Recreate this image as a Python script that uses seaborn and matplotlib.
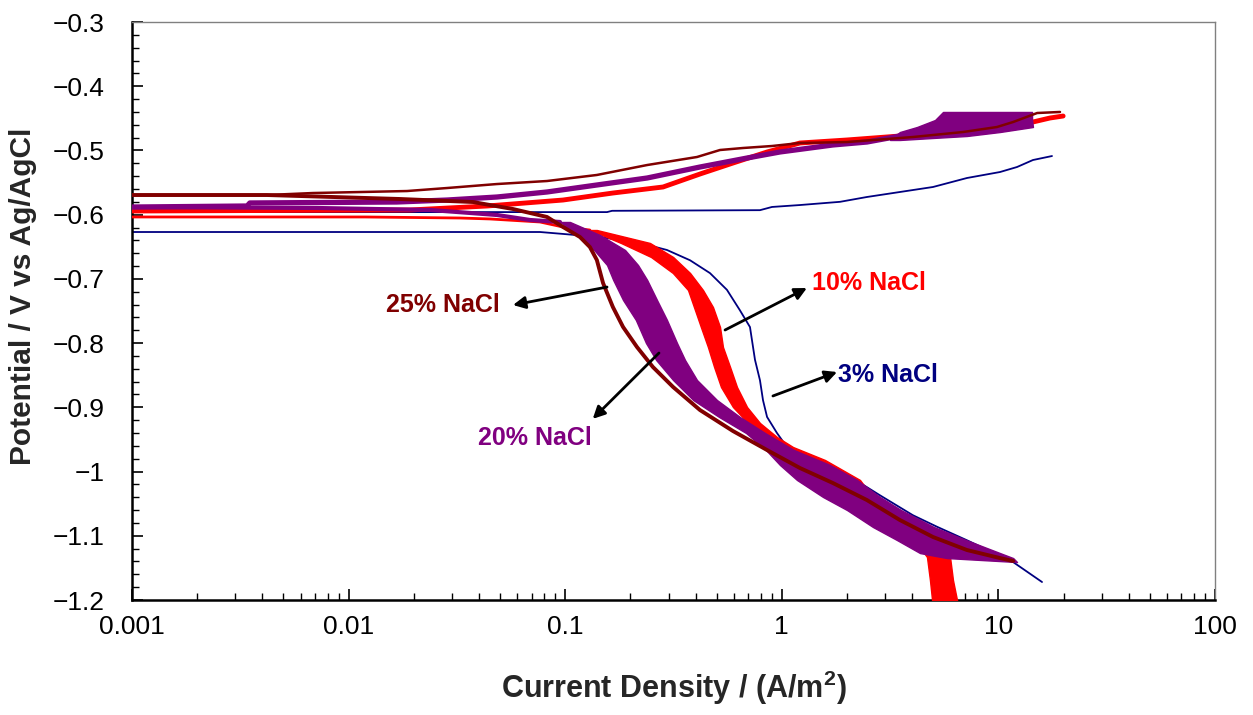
import numpy as np
import pandas as pd
import matplotlib
matplotlib.use("Agg")
import matplotlib.pyplot as plt
import seaborn as sns
from matplotlib.ticker import FixedLocator, LogLocator, MultipleLocator, FuncFormatter, NullFormatter

# ---------------- data (current density A/m^2, potential V vs Ag/AgCl) ----------------
# 3% NaCl
blue_cath_i = [0.001, 0.0765, 0.0977, 0.145, 0.185, 0.221, 0.295, 0.377, 0.466, 0.558, 0.641, 0.713, 0.728,
               0.752, 0.793, 0.819, 0.855, 0.95, 1.057, 1.39, 2.0, 2.84, 4.03, 5.21, 7.16, 11.7, 15.9]
blue_cath_e = [-0.627, -0.627, -0.630, -0.635, -0.640, -0.644, -0.655, -0.671, -0.691, -0.717, -0.749, -0.775,
               -0.795, -0.826, -0.858, -0.889, -0.915, -0.940, -0.962, -0.977, -1.005, -1.037, -1.068, -1.086,
               -1.107, -1.141, -1.172]
blue_an_i = [0.001, 0.156, 0.1645, 0.793, 0.901, 1.213, 1.857, 2.47, 3.51, 4.99, 7.16, 10.17, 12.19, 14.44, 17.68]
blue_an_e = [-0.596, -0.596, -0.594, -0.593, -0.588, -0.585, -0.580, -0.5725, -0.5647, -0.5569, -0.5429,
             -0.5336, -0.5258, -0.5149, -0.5087]

# 25% NaCl
dr_cath_i = [0.001, 0.0042, 0.00847, 0.01727, 0.0375, 0.045, 0.0574, 0.0688, 0.0824, 0.0977, 0.117, 0.130,
             0.140, 0.1495, 0.166, 0.185, 0.2145, 0.254, 0.315, 0.419, 0.595, 0.855, 1.213, 1.72, 2.47, 3.51,
             4.99, 7.16, 10.17, 11.7]
dr_cath_e = [-0.5694, -0.5694, -0.5725, -0.5756, -0.5803, -0.5850, -0.5912, -0.5974, -0.6036, -0.6192,
             -0.6348, -0.6504, -0.6706, -0.7064, -0.7438, -0.7749, -0.8061, -0.8372, -0.8684, -0.9042,
             -0.9369, -0.9665, -0.9945, -1.0178, -1.0443, -1.0755, -1.1019, -1.1222, -1.1347, -1.1393]
dr_an_i = [0.001, 0.0042, 0.00685, 0.0186, 0.0285, 0.0484, 0.0824, 0.140, 0.239, 0.406, 0.5185, 0.662,
           0.901, 1.213, 2.0, 4.03, 6.87, 9.85, 11.7, 15.1, 19.25]
dr_an_e = [-0.5694, -0.5694, -0.5663, -0.5632, -0.5585, -0.5523, -0.5476, -0.5382, -0.5227, -0.5102,
           -0.4993, -0.4962, -0.4931, -0.4884, -0.4869, -0.4791, -0.4713, -0.4635, -0.4557, -0.4417, -0.4401]

# 20% NaCl
pu_cath_i = [0.001, 0.00715, 0.0238, 0.0484, 0.0688, 0.0946]
pu_cath_e = [-0.5881, -0.5896, -0.5927, -0.6005, -0.6083, -0.6114]
pu_band_e = [-0.6114, -0.6317, -0.655, -0.6784, -0.7017, -0.7329, -0.7640, -0.7998, -0.8263, -0.8575,
             -0.8886, -0.9151, -0.94, -0.9665, -0.9898, -1.0131, -1.0396, -1.0599, -1.0864, -1.1066,
             -1.1269, -1.1347, -1.1409]
pu_band_lo = [0.0946, 0.116, 0.136, 0.156, 0.1666, 0.185, 0.212, 0.236, 0.263, 0.315, 0.390, 0.514,
              0.684, 0.8455, 0.981, 1.175, 1.55, 2.0, 2.637, 3.40, 4.345, 5.79, 12.19]
pu_band_hi = [0.1052, 0.1447, 0.1889, 0.2168, 0.239, 0.2653, 0.295, 0.3282, 0.3574, 0.406, 0.502, 0.641,
              0.8365, 1.138, 1.669, 2.224, 2.84, 3.55, 5.04, 7.09, 10.17, 11.7, 12.19]
pu_an_i = [0.001, 0.0034, 0.0035, 0.0167, 0.0285, 0.0484, 0.0824, 0.140, 0.239, 0.419, 0.691, 0.981, 1.72,
           2.47, 3.51]
pu_an_e = [-0.5881, -0.5865, -0.5818, -0.5803, -0.5772, -0.5725, -0.5647, -0.5538, -0.5429, -0.5258,
           -0.5118, -0.5024, -0.4915, -0.4869, -0.4775]
pu_aband_e = [-0.4837, -0.4806, -0.4775, -0.4713, -0.4635, -0.4526, -0.4401]
pu_aband_lo = [3.16, 3.26, 3.33, 3.51, 4.21, 5.10, 5.55]
pu_aband_hi = [3.51, 4.99, 7.16, 10.17, 14.44, 14.3, 14.3]

# 10% NaCl
red_cath_i = [0.001, 0.0119, 0.0327, 0.045, 0.0765, 0.0977, 0.130]
red_cath_e = [-0.6036, -0.6036, -0.6052, -0.6067, -0.6114, -0.6192, -0.6239]
red_band_e = [-0.6239, -0.6441, -0.6659, -0.6908, -0.7173, -0.7438, -0.7749, -0.8061, -0.8372, -0.8684,
              -0.8995, -0.9244, -0.9462, -0.9618, -0.982, -1.0131, -1.0443, -1.0755, -1.1066, -1.1331,
              -1.1689, -1.2, -1.2156]
red_band_lo = [0.130, 0.181, 0.249, 0.314, 0.369, 0.393, 0.423, 0.456, 0.487, 0.524, 0.595, 0.698,
               0.845, 1.013, 1.454, 1.669, 2.296, 3.16, 4.12, 4.68, 4.83, 4.94, 4.99]
red_band_hi = [0.140, 0.2463, 0.315, 0.377, 0.4326, 0.481, 0.5185, 0.535, 0.577, 0.621, 0.691, 0.793,
               0.95, 1.127, 1.583, 2.296, 2.694, 3.91, 5.67, 5.98, 6.17, 6.44, 6.51]
red_an_i = [0.001, 0.0192, 0.0436, 0.0977, 0.166, 0.283, 0.419, 0.595, 0.855, 1.213, 2.0, 3.51, 7.16,
            10.17, 14.44, 17.3, 19.9]
red_an_e = [-0.5943, -0.5927, -0.5865, -0.5772, -0.5663, -0.5569, -0.5367, -0.5196, -0.5024, -0.4884,
            -0.4837, -0.4775, -0.4697, -0.4635, -0.4557, -0.4495, -0.4464]

# annotations
ann_labels = ["25% NaCl", "10% NaCl", "3% NaCl", "20% NaCl"]
ann_text_i = [0.0273, 2.53, 3.09, 0.0726]
ann_text_e = [-0.7407, -0.706, -0.8497, -0.948]
ann_tail_i = [0.156, 0.547, 0.910, 0.271]
ann_tail_e = [-0.7127, -0.7796, -0.8823, -0.8154]
ann_head_i = [0.0574, 1.306, 1.80, 0.134]
ann_head_e = [-0.7407, -0.7142, -0.845, -0.918]

x_ticks = [0.001, 0.01, 0.1, 1, 10, 100]
x_ticklabels = ["0.001", "0.01", "0.1", "1", "10", "100"]

C_BLUE, C_RED, C_PURPLE, C_DRED = "#000080", "#FF0000", "#800080", "#800000"
ann_colors = [C_DRED, C_RED, C_BLUE, C_PURPLE]

# ---------------- figure ----------------
sns.set_style("white")
plt.rcParams["font.family"] = ["Liberation Sans", "DejaVu Sans"]
plt.rcParams["mathtext.fontset"] = "custom"
plt.rcParams["mathtext.rm"] = "Liberation Sans"
plt.rcParams["mathtext.bf"] = "Liberation Sans:bold"

fig = plt.figure(figsize=(12.53, 7.15), dpi=100)
ax = fig.add_axes([132 / 1253, 115 / 715, 1083 / 1253, 578 / 715])


def line(xs, ys, color, lw, z):
    df = pd.DataFrame({"i": xs, "e": ys})
    sns.lineplot(data=df, x="i", y="e", sort=False, estimator=None, color=color,
                 linewidth=lw, ax=ax, zorder=z, legend=False)


# 3% NaCl (blue)
line(blue_cath_i, blue_cath_e, C_BLUE, 1.3, 2)
line(blue_an_i, blue_an_e, C_BLUE, 1.3, 2)

# 10% NaCl (red)
ax.fill_betweenx(red_band_e, red_band_lo, red_band_hi, color=C_RED, lw=1.0, zorder=3)
line(red_cath_i, red_cath_e, C_RED, 2.0, 3)
line(red_an_i, red_an_e, C_RED, 3.5, 3)

# 20% NaCl (purple)
ax.fill_betweenx(pu_band_e, pu_band_lo, pu_band_hi, color=C_PURPLE, lw=1.0, zorder=4)
ax.fill_betweenx(pu_aband_e, pu_aband_lo, pu_aband_hi, color=C_PURPLE, lw=1.0, zorder=4)
line(pu_cath_i, pu_cath_e, C_PURPLE, 3.0, 4)
line(pu_an_i, pu_an_e, C_PURPLE, 3.8, 4)

# 25% NaCl (dark red)
line(dr_cath_i, dr_cath_e, C_DRED, 2.8, 5)
line(dr_an_i, dr_an_e, C_DRED, 1.8, 5)

# axes
ax.set_xscale("log")
ax.set_xlim(0.001, 100)
ax.set_ylim(-1.2, -0.3)
ax.xaxis.set_major_locator(FixedLocator(x_ticks))
ax.xaxis.set_major_formatter(FuncFormatter(lambda v, p: x_ticklabels[x_ticks.index(v)] if v in x_ticks else ""))
ax.xaxis.set_minor_locator(LogLocator(base=10, subs=np.arange(2, 10), numticks=20))
ax.xaxis.set_minor_formatter(NullFormatter())
ax.yaxis.set_major_locator(MultipleLocator(0.1))
ax.yaxis.set_minor_locator(MultipleLocator(0.02))
ax.yaxis.set_major_formatter(FuncFormatter(lambda v, p: ("%g" % round(v, 2)).replace("-", "\u2212")))

ax.tick_params(axis="both", which="both", direction="in", colors="black",
               bottom=True, left=True, top=False, right=False)
ax.tick_params(axis="both", which="major", length=8, width=1.2, labelsize=19)
ax.tick_params(axis="both", which="minor", length=5, width=1.0)
ax.tick_params(axis="y", which="major", pad=20)
ax.tick_params(axis="x", which="major", pad=11)

for s in ["left", "bottom"]:
    ax.spines[s].set_color("black")
    ax.spines[s].set_linewidth(1.8)
for s in ["top", "right"]:
    ax.spines[s].set_color("#808080")
    ax.spines[s].set_linewidth(1.0)

ax.set_xlabel("Current Density / (A/m$^\\mathbf{2}$)", fontsize=22, fontweight="bold", labelpad=21)
ax.set_ylabel("Potential / V vs Ag/AgCl", fontsize=21.5, fontweight="bold")
ax.yaxis.set_label_coords(-0.0877, 0.526)

for lab, ti, te, ai, ae, hi, he, c in zip(ann_labels, ann_text_i, ann_text_e, ann_tail_i, ann_tail_e,
                                          ann_head_i, ann_head_e, ann_colors):
    ax.annotate("", xy=(hi, he), xytext=(ai, ae),
                arrowprops=dict(arrowstyle="-|>", color="black", lw=2.0, mutation_scale=18,
                                shrinkA=0, shrinkB=0), zorder=6)
    ax.text(ti, te, lab, color=c, fontsize=18, fontweight="bold", ha="center", va="center", zorder=7)

fig.savefig("out.png", dpi=100)
